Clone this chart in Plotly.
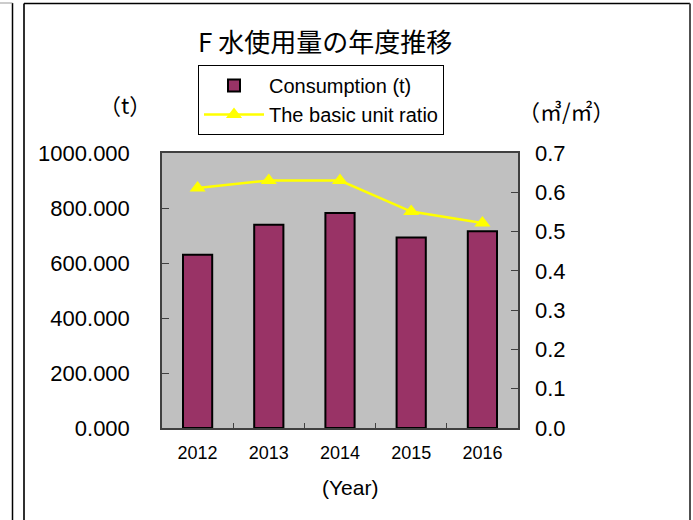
import plotly.graph_objects as go

years = ["2012", "2013", "2014", "2015", "2016"]
consumption = [630, 739, 782, 693, 715]
unit_ratio = [0.611, 0.630, 0.630, 0.551, 0.522]

W, H = 693, 520
PL, PR, PT, PB = 162, 518, 153, 428  # plot area in page pixels
L, T = PL, PT
R = W - PR
B = H - PB
PW, PH = PR - PL, PB - PT


def px(x):
    return (x - PL) / PW


def py(y):
    return (PB - y) / PH


NUM_FONT = "Liberation Sans, Arial, sans-serif"
JP_FONT = "Noto Sans CJK JP, sans-serif"

fig = go.Figure()
fig.add_trace(go.Bar(
    x=years, y=consumption, name="Consumption (t)",
    marker=dict(color="#993366", line=dict(color="black", width=2)),
    width=0.41, yaxis="y",
))
fig.add_trace(go.Scatter(
    x=years, y=unit_ratio, name="The basic unit ratio",
    mode="lines+markers",
    line=dict(color="#FFFF00", width=2.5),
    marker=dict(symbol="triangle-up", size=14, color="#FFFF00"),
    yaxis="y2",
))

axis_line = "#404040"
fig.update_layout(
    width=W, height=H,
    margin=dict(l=L, r=R, t=T, b=B, pad=0),
    paper_bgcolor="white",
    plot_bgcolor="#C0C0C0",
    showlegend=True,
    legend=dict(
        x=px(198), y=py(65), xanchor="left", yanchor="top",
        bordercolor="black", borderwidth=1, bgcolor="white",
        font=dict(family=NUM_FONT, size=20, color="black"),
        traceorder="normal", itemwidth=60, tracegroupgap=0,
    ),
    xaxis=dict(
        type="category", showgrid=False,
        showline=True, linecolor=axis_line, linewidth=1.5, mirror=True,
        ticks="inside", tickson="boundaries", ticklen=5, tickcolor=axis_line,
        tickfont=dict(family=NUM_FONT, size=18, color="black"),
        ticklabelstandoff=8,
    ),
    yaxis=dict(
        range=[0, 1000], dtick=200, tickformat=".3f", showgrid=False,
        zeroline=False,
        showline=True, linecolor=axis_line, linewidth=1.5, mirror=True,
        ticks="inside", ticklen=7, tickcolor=axis_line,
        tickfont=dict(family=NUM_FONT, size=22, color="black"),
        ticklabelstandoff=26,
    ),
    yaxis2=dict(
        range=[0, 0.7], dtick=0.1, tickformat=".1f", showgrid=False,
        zeroline=False, overlaying="y", side="right",
        showline=False,
        ticks="inside", ticklen=7, tickcolor=axis_line,
        tickfont=dict(family=NUM_FONT, size=22, color="black"),
        ticklabelstandoff=16,
    ),
    annotations=[
        dict(text="F 水使用量の年度推移", xref="paper", yref="paper",
             x=px(325), y=py(40), xanchor="center", yanchor="middle",
             showarrow=False,
             font=dict(family=JP_FONT, size=26, color="black")),
        dict(text="（t）", xref="paper", yref="paper",
             x=px(125), y=py(104), xanchor="center", yanchor="middle",
             showarrow=False,
             font=dict(family=JP_FONT, size=22, color="black")),
        dict(text="（㎥/㎡）", xref="paper", yref="paper",
             x=px(566), y=py(110), xanchor="center", yanchor="middle",
             showarrow=False,
             font=dict(family=JP_FONT, size=22, color="black")),
        dict(text="(Year)", xref="paper", yref="paper",
             x=px(350), y=py(487), xanchor="center", yanchor="middle",
             showarrow=False,
             font=dict(family=NUM_FONT, size=21, color="black")),
    ],
    shapes=[
        # main outer frame
        dict(type="line", xref="paper", yref="paper",
             x0=px(24), x1=px(24), y0=py(3.5), y1=py(530),
             line=dict(color="#303030", width=2)),
        dict(type="line", xref="paper", yref="paper",
             x0=px(24), x1=px(690), y0=py(3.5), y1=py(3.5),
             line=dict(color="black", width=1.5)),
        dict(type="line", xref="paper", yref="paper",
             x0=px(690), x1=px(690), y0=py(3.5), y1=py(530),
             line=dict(color="#505050", width=2)),
        # neighbouring chart frame on the left
        dict(type="line", xref="paper", yref="paper",
             x0=px(12.5), x1=px(12.5), y0=py(3), y1=py(530),
             line=dict(color="black", width=1.5)),
        dict(type="line", xref="paper", yref="paper",
             x0=px(-5), x1=px(12.5), y0=py(3), y1=py(3),
             line=dict(color="#999999", width=1)),
    ],
)

fig.write_html(
    "out.html",
    config={"displayModeBar": False},
    post_script="document.body.style.margin='0';document.body.style.overflow='hidden';",
)
